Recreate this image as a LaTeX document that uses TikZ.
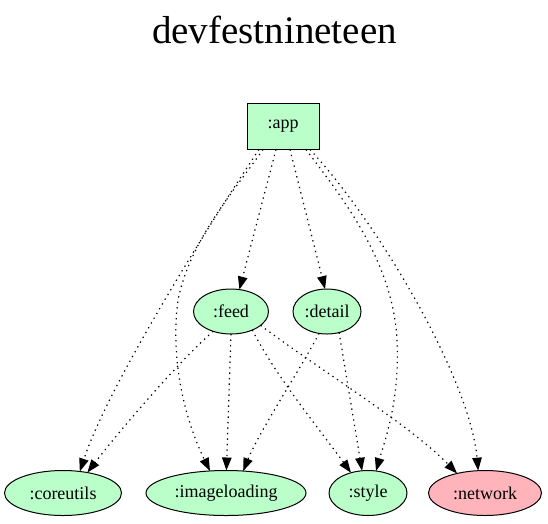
\documentclass[tikz,border=0pt]{standalone}
\usepackage{fontspec}
\setmainfont{Liberation Serif}
\usetikzlibrary{shapes.geometric,arrows.meta}
\definecolor{modgreen}{HTML}{BAFFC9}
\definecolor{modred}{HTML}{FFB3BA}
\tikzset{
  modbox/.style={draw=black, line width=1pt, fill=modgreen, rectangle, inner sep=0pt, outer sep=0pt, font=\fontsize{18}{20}\selectfont},
  modell/.style={draw=black, line width=1pt, fill=modgreen, ellipse, inner sep=0pt, outer sep=0pt, minimum height=45pt, font=\fontsize{18}{20}\selectfont},
  dep/.style={line width=1.2pt, dash pattern=on 1.3pt off 4.2pt, -{Triangle[length=13pt,width=9.5pt]}}
}
\begin{document}
\begin{tikzpicture}[x=1pt,y=-1pt]
\useasboundingbox (0,0) rectangle (548,523);
\node[anchor=base, font=\fontsize{39}{42}\selectfont] (title) at (274.5,43) {devfestnineteen};

\node[modbox, minimum width=72pt, minimum height=46pt] (app) at (283,126.5) {:app};
\node[modell, minimum width=75pt] (feed) at (231,311.5) {:feed};
\node[modell, minimum width=68pt] (detail) at (327,311.5) {:detail};
\node[modell, minimum width=117pt] (coreutils) at (63,493) {:coreutils};
\node[modell, minimum width=160pt] (imageloading) at (226,493) {:imageloading};
\node[modell, minimum width=78pt] (style) at (368,493) {:style};
\node[modell, minimum width=113pt, fill=modred] (network) at (485,493) {:network};

% from app
\draw[dep] ([xshift=-24pt]app.south) .. controls (225,200) and (110,380) .. (coreutils.52);
\draw[dep] ([xshift=-20pt]app.south) .. controls (235,190) and (190,240) .. (178,300) .. controls (170,360) and (185,420) .. (imageloading.126);
\draw[dep] ([xshift=-7pt]app.south) -- (feed.69);
\draw[dep] ([xshift=7pt]app.south) -- (detail.95);
\draw[dep] ([xshift=23pt]app.south) .. controls (340,195) and (393,260) .. (397,340) .. controls (400,400) and (385,440) .. (style.70);
\draw[dep] ([xshift=27pt]app.south) .. controls (380,225) and (470,380) .. (network.107);

% from feed
\draw[dep] (feed.228) .. controls (180,360) and (120,430) .. (coreutils.40);
\draw[dep] (feed.270) -- (imageloading.89);
\draw[dep] (feed.319) .. controls (275,375) and (320,430) .. (style.130);
\draw[dep] (feed.335) .. controls (320,370) and (410,425) .. (network.145);

% from detail
\draw[dep] (detail.250) .. controls (300,370) and (260,430) .. (imageloading.52);
\draw[dep] (detail.300) -- (style.105);
\end{tikzpicture}
\end{document}
